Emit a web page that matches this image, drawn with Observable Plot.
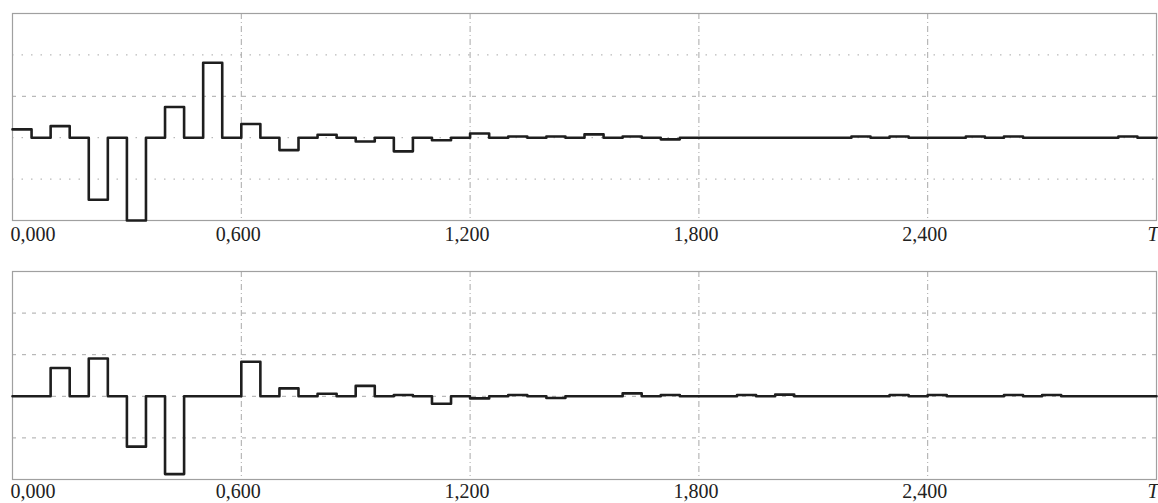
<!DOCTYPE html>
<html>
<head>
<meta charset="utf-8">
<script src="https://cdn.jsdelivr.net/npm/d3@7"></script>
<script src="https://cdn.jsdelivr.net/npm/@observablehq/plot@0.6"></script>
<style>
  html, body { margin: 0; padding: 0; background: #fff; }
  #chart svg { display: block; }
</style>
</head>
<body>
<div id="chart"></div>
<script>
// Bin start times (s), last entry closes the final step
const times = [
  0.00, 0.05, 0.10, 0.15, 0.20, 0.25, 0.30, 0.35, 0.40, 0.45,
  0.50, 0.55, 0.60, 0.65, 0.70, 0.75, 0.80, 0.85, 0.90, 0.95,
  1.00, 1.05, 1.10, 1.15, 1.20, 1.25, 1.30, 1.35, 1.40, 1.45,
  1.50, 1.55, 1.60, 1.65, 1.70, 1.75, 1.80, 1.85, 1.90, 1.95,
  2.00, 2.05, 2.10, 2.15, 2.20, 2.25, 2.30, 2.35, 2.40, 2.45,
  2.50, 2.55, 2.60, 2.65, 2.70, 2.75, 2.80, 2.85, 2.90, 2.95,
  3.00
];
// Top series (one value per bin)
const topValues = [
  0.20, 0, 0.28, 0, -1.50, 0, -2.00, 0, 0.74, 0,
  1.81, 0, 0.33, 0, -0.30, 0, 0.07, 0, -0.09, 0,
  -0.33, 0, -0.06, 0, 0.10, 0, 0.03, 0, 0.03, 0,
  0.08, 0, 0.03, 0, -0.04, 0, 0, 0, 0, 0,
  0, 0, 0, 0, 0.03, 0, 0.03, 0, 0, 0,
  0.03, 0, 0.03, 0, 0, 0, 0, 0, 0.03, 0
];
// Bottom series (one value per bin)
const bottomValues = [
  0, 0, 0.68, 0, 0.91, 0, -1.21, 0, -1.87, 0,
  0, 0, 0.83, 0, 0.19, 0, 0.06, 0, 0.25, 0,
  0.03, 0, -0.18, 0, -0.05, 0, 0.03, 0, -0.04, 0,
  0, 0, 0.07, 0, 0.03, 0, 0, 0, 0.03, 0,
  0.04, 0, 0, 0, 0, 0, 0.03, 0, 0.03, 0,
  0, 0, 0.03, 0, 0.03, 0, 0, 0, 0, 0
];
const tickValues = [0, 0.6, 1.2, 1.8, 2.4];
const tickLabels = ["0,000", "0,600", "1,200", "1,800", "2,400"];
const endLabel = "T";
const endValue = 3.0;
const yGrid = [-1, 0, 1, 2];

function stepData(values) {
  return times.map((t, i) => ({t, v: values[Math.min(i, values.length - 1)]}));
}
const fmt = d => tickLabels[tickValues.indexOf(d)];
const FS = 20;

function panel(values, opts) {
  const gridStyles = opts.gridStyles;
  return Plot.plot({
    width: 1158,
    height: opts.height,
    marginLeft: 12,
    marginRight: 2,
    marginTop: opts.marginTop,
    marginBottom: opts.marginBottom,
    style: {fontFamily: "'Liberation Serif', 'Times New Roman', serif", fontSize: FS + "px", color: "#222", background: "#fff", overflow: "visible"},
    x: {domain: [0, 3], axis: null, label: null},
    y: {domain: [-2, 3], axis: null, label: null},
    marks: [
      ...yGrid.map((g, i) => Plot.gridY([g], {stroke: "#a8a8a8", strokeOpacity: 1, strokeWidth: 1, strokeDasharray: gridStyles[i]})),
      Plot.gridX(tickValues.slice(1), {stroke: "#a8a8a8", strokeOpacity: 1, strokeWidth: 1, strokeDasharray: "6,3,1,3"}),
      Plot.frame({stroke: "#a0a0a0", strokeWidth: 1.2}),
      Plot.line(stepData(values), {x: "t", y: "v", curve: "step-after", stroke: "#1e1e1e", strokeWidth: 2.6}),
      Plot.axisX([tickValues[0]], {label: null, tickSize: 0, tickPadding: opts.pad, tickFormat: fmt, textAnchor: "start", dx: -2, fontSize: FS, fill: "#222"}),
      Plot.axisX(tickValues.slice(1), {label: null, tickSize: 0, tickPadding: opts.pad, tickFormat: fmt, dx: -3, fontSize: FS, fill: "#222"}),
      Plot.text([endValue], {x: d => d, text: () => endLabel, frameAnchor: "bottom", lineAnchor: "top", dy: opts.pad, dx: 2, textAnchor: "end", fontStyle: "italic", fontSize: FS, fill: "#222"})
    ]
  });
}

const chart = document.getElementById("chart");
chart.append(panel(topValues, {height: 250, marginTop: 13, marginBottom: 30, pad: 6, gridStyles: ["1.5,8", "1.5,8", "4,6", "1.5,8"]}));
chart.append(panel(bottomValues, {height: 253, marginTop: 21, marginBottom: 24, pad: 4, gridStyles: ["4,6", "4,6", "4,6", "4,6"]}));
</script>
</body>
</html>
